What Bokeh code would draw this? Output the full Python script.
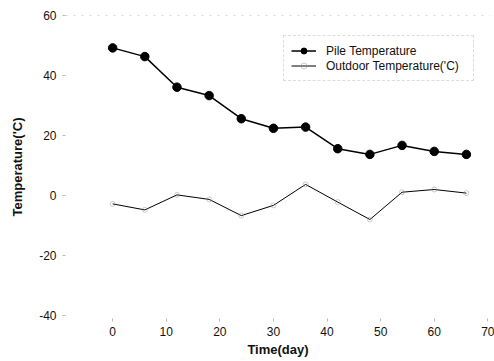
from bokeh.plotting import figure
from bokeh.models import Range1d, FixedTicker, Legend, LegendItem, Span
from bokeh.embed import file_html
from bokeh.resources import INLINE

days = [0, 6, 12, 18, 24, 30, 36, 42, 48, 54, 60, 66]
pile_temp = [49.2, 46.3, 36.1, 33.3, 25.6, 22.4, 22.8, 15.6, 13.7, 16.7, 14.7, 13.7]
outdoor_temp = [-2.8, -4.8, 0.2, -1.3, -6.7, -3.3, 3.7, -2.2, -8.0, 1.1, 2.0, 0.8]
x_ticks = [0, 10, 20, 30, 40, 50, 60, 70]
y_ticks = [-40, -20, 0, 20, 40, 60]
y_tick_labels = {t: str(t) for t in y_ticks}

FONT = "Liberation Sans"

p = figure(width=494, height=361, output_backend="svg", toolbar_location=None,
           x_range=Range1d(-8.8, 70.5), y_range=Range1d(-41, 60),
           min_border_left=65, min_border_right=4, min_border_top=15, min_border_bottom=43)
p.outline_line_color = None
p.background_fill_color = "white"
p.border_fill_color = "white"
p.xgrid.visible = False
p.ygrid.visible = False

for ax in (p.xaxis[0], p.yaxis[0]):
    ax.axis_line_color = None
    ax.major_tick_line_color = "#bbbbbb"
    ax.minor_tick_line_color = None
    ax.major_tick_in = 0
    ax.major_tick_out = 3
    ax.major_label_text_font = FONT
    ax.major_label_text_font_size = "12px"
    ax.major_label_text_color = "#111111"
    ax.axis_label_text_font = FONT
    ax.axis_label_text_font_size = "13px"
    ax.axis_label_text_font_style = "bold"
    ax.axis_label_text_color = "#111111"

p.xaxis.ticker = FixedTicker(ticks=x_ticks)
p.yaxis.ticker = FixedTicker(ticks=y_ticks)
p.yaxis.major_label_overrides = y_tick_labels
p.xaxis.axis_label = "Time(day)"
p.yaxis.axis_label = "Temperature('C)"
p.xaxis.major_label_standoff = 5
p.yaxis.major_label_standoff = 6
p.xaxis.axis_label_standoff = 3
p.yaxis.axis_label_standoff = 11

p.add_layout(Span(location=60, dimension="width", line_color="#aaaaaa",
                  line_dash="2 6", line_width=1))

l1 = p.line(days, pile_temp, line_color="black", line_width=1.5)
c1 = p.scatter(days, pile_temp, size=8.5, fill_color="black", line_color="black")
l2 = p.line(days, outdoor_temp, line_color="black", line_width=1)
c2 = p.scatter(days, outdoor_temp, size=5, marker="circle", fill_color=None,
               line_color="#999999", line_alpha=0.5)

legend = Legend(items=[LegendItem(label="Pile Temperature", renderers=[l1, c1]),
                       LegendItem(label="Outdoor Temperature('C)", renderers=[l2, c2])],
                location=(218, 237))
legend.label_text_font = FONT
legend.label_text_font_size = "12px"
legend.label_text_color = "#111111"
legend.glyph_width = 25
legend.glyph_height = 15
legend.label_height = 15
legend.label_width = 140
legend.label_standoff = 10
legend.spacing = 0
legend.padding = 7
legend.margin = 0
legend.border_line_color = "#bbbbbb"
legend.border_line_dash = "2 6"
legend.border_line_width = 1
legend.background_fill_alpha = 0
p.add_layout(legend, "center")

open("out.html", "w").write(file_html(p, INLINE))
